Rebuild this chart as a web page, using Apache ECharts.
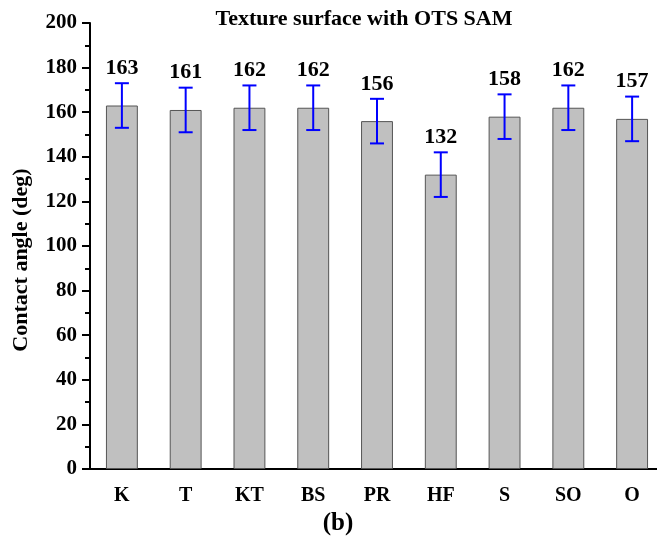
<!DOCTYPE html>
<html><head><meta charset="utf-8">
<script src="https://cdn.jsdelivr.net/npm/echarts@6/dist/echarts.min.js"></script>
<style>html,body{margin:0;padding:0;background:#fff;overflow:hidden;width:657px;height:537px}#c{width:664px;height:537px}</style>
</head><body><div id="c"></div>
<script>
var categories = ['K','T','KT','BS','PR','HF','S','SO','O'];
var angles = [163, 161, 162, 162, 156, 132, 158, 162, 157];
var errors = [10, 10, 10, 10, 10, 10, 10, 10, 10];
var valueLabels = ['163','161','162','162','156','132','158','162','157'];

var FONT = '"Liberation Serif","Times New Roman",serif';
var chart = echarts.init(document.getElementById('c'));
var errData = categories.map(function(c,i){ return [i, angles[i]-errors[i], angles[i]+errors[i], valueLabels[i]]; });

chart.setOption({
  animation:false,
  graphic:[
    {type:'text', x:364, y:19, style:{text:'Texture surface with OTS SAM', align:'center', verticalAlign:'middle',
      fontFamily:FONT, fontWeight:'bold', fontSize:22, fill:'#000'}},
    {type:'text', x:21, y:260, rotation:Math.PI/2, style:{text:'Contact angle (deg)', align:'center', verticalAlign:'middle',
      fontFamily:FONT, fontWeight:'bold', fontSize:22, fill:'#000'}},
    {type:'text', x:338, y:524, style:{text:'(b)', align:'center', verticalAlign:'middle',
      fontFamily:FONT, fontWeight:'bold', fontSize:25, fill:'#000'}}
  ],
  grid:{left:90, right:0, top:23, bottom:68, containLabel:false},
  xAxis:[{
    type:'category', data:categories, position:'bottom',
    axisLine:{lineStyle:{color:'#000', width:2}},
    axisTick:{alignWithLabel:true, length:8, lineStyle:{color:'#000', width:2}},
    axisLabel:{fontFamily:FONT, fontWeight:'bold', fontSize:20, color:'#000', margin:17}
  },{
    type:'category', data:categories, position:'bottom', gridIndex:0,
    axisLine:{show:false},
    axisTick:{length:5, lineStyle:{color:'#000', width:2}},
    axisLabel:{show:false}
  }],
  yAxis:{
    type:'value', min:0, max:200, interval:20,
    axisLine:{show:true, lineStyle:{color:'#000', width:2}},
    axisTick:{show:true, length:8, lineStyle:{color:'#000', width:2}},
    minorTick:{show:true, splitNumber:2, length:5, lineStyle:{color:'#000', width:2}},
    splitLine:{show:false},
    axisLabel:{fontFamily:FONT, fontWeight:'bold', fontSize:21, color:'#000', margin:13}
  },
  series:[{
    type:'bar', data:angles, barWidth:'50%', xAxisIndex:0,
    itemStyle:{color:'#c0c0c0', borderColor:'#555', borderWidth:1}
  },{
    type:'custom', xAxisIndex:0, data:errData, z:10,
    renderItem:function(params, api){
      var x = api.value(0);
      var lo = api.coord([x, api.value(1)]);
      var hi = api.coord([x, api.value(2)]);
      var hw = 7;
      var st = {stroke:'#0000ff', lineWidth:2};
      return {type:'group', children:[
        {type:'line', shape:{x1:lo[0], y1:lo[1], x2:hi[0], y2:hi[1]}, style:st},
        {type:'line', shape:{x1:lo[0]-hw, y1:lo[1], x2:lo[0]+hw, y2:lo[1]}, style:st},
        {type:'line', shape:{x1:hi[0]-hw, y1:hi[1], x2:hi[0]+hw, y2:hi[1]}, style:st},
        {type:'text', style:{text:api.value(3), x:hi[0], y:hi[1]-4, align:'center', verticalAlign:'bottom',
          fontFamily:FONT, fontWeight:'bold', fontSize:22, fill:'#000'}}
      ]};
    }
  }]
});
</script></body></html>
